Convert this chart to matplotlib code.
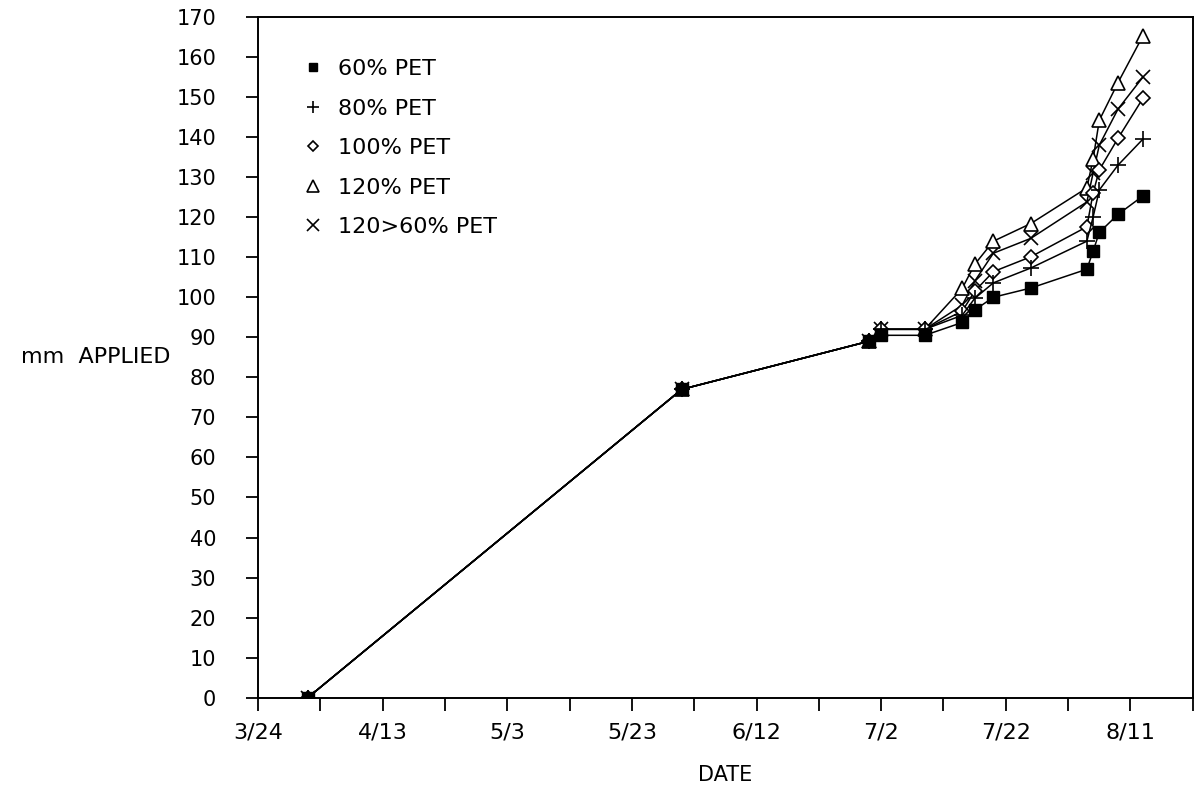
import matplotlib
matplotlib.use("Agg")
import matplotlib.pyplot as plt
from matplotlib.lines import Line2D
import pandas as pd

# irrigation dates (season year assumed) and cumulative water applied, mm
dates = ["4/1", "5/31", "6/30", "7/2", "7/9", "7/15", "7/17", "7/20",
         "7/26", "8/4", "8/5", "8/6", "8/9", "8/13"]
pet60 = [0, 77, 89, 90.5, 90.5, 93.7, 96.8, 100.0, 102.3, 107.0, 111.5, 116.2, 120.7, 125.3]
pet80 = [0, 77, 89, 92, 92, 95.5, 99.7, 103.6, 107.3, 114.0, 120.0, 126.8, 133.0, 139.5]
pet100 = [0, 77, 89, 92, 92, 96.5, 101.5, 106.4, 110.1, 117.6, 126.0, 131.8, 139.7, 149.7]
pet120 = [0, 77, 89, 92, 92, 102.2, 108.2, 114.0, 118.4, 127.3, 134.5, 144.2, 153.6, 165.3]
pet120_60 = [0, 77, 89, 92, 92, 98.0, 104.0, 111.0, 114.7, 123.8, 131.0, 138.0, 147.0, 155.0]

labels = ["60% PET", "80% PET", "100% PET", "120% PET", "120>60% PET"]
tick_labels = ["3/24", "4/13", "5/3", "5/23", "6/12", "7/2", "7/22", "8/11"]
year = 1991


def to_dates(md):
    return pd.to_datetime([f"{year}/{d}" for d in md], format="%Y/%m/%d")


x = to_dates(dates)
series = [pet60, pet80, pet100, pet120, pet120_60]
styles = [
    dict(marker="s", markersize=8, markerfacecolor="black", markeredgecolor="black"),
    dict(marker="+", markersize=11, markeredgewidth=1.2, markeredgecolor="black"),
    dict(marker="D", markersize=7, markerfacecolor="white", markeredgecolor="black", markeredgewidth=1.2),
    dict(marker="^", markersize=10.5, markerfacecolor="white", markeredgecolor="black", markeredgewidth=1.2),
    dict(marker="x", markersize=10, markeredgewidth=1.2, markeredgecolor="black"),
]

plt.rcParams["font.family"] = ["DejaVu Sans"]

fig = plt.figure(figsize=(11.94, 7.93), dpi=100)
ax = fig.add_axes([0.216, 0.1202, 0.783, 0.8584])

# draw the 60% series last so its squares sit on top
for i in [4, 3, 2, 1, 0]:
    ax.plot(x, series[i], color="black", linewidth=1.1, zorder=3 + (i == 0), **styles[i])

ticks = to_dates(tick_labels)
minor = ticks[:-1] + (ticks[1:] - ticks[:-1]) / 2
minor = minor.append(to_dates(["8/21"]))
ax.set_xticks(ticks)
ax.set_xticklabels(tick_labels)
ax.set_xticks(minor, minor=True)
ax.set_xlim(to_dates(["3/24"])[0], to_dates(["8/21"])[0])

ax.set_ylim(0, 170)
ax.set_yticks(range(0, 171, 10))

ax.tick_params(axis="both", which="both", direction="out", length=9, width=1.3,
               colors="black")
ax.tick_params(axis="y", pad=21, labelsize=15)
ax.tick_params(axis="x", pad=9, labelsize=16)
ax.tick_params(top=False, right=False)

for s in ax.spines.values():
    s.set_linewidth(1.4)

ax.set_xlabel("DATE", fontsize=15, labelpad=16)
ax.set_ylabel("mm  APPLIED", fontsize=16, rotation=0, ha="right", va="center")
ax.yaxis.set_label_coords(-0.094, 0.5)

handles = [Line2D([], [], linestyle="none", color="black", **st) for st in styles]
ax.legend(handles, labels, loc="upper left", bbox_to_anchor=(0.0256, 0.9676),
          frameon=False, fontsize=16, handlelength=1.0, handletextpad=0.63,
          labelspacing=0.88, markerscale=0.8)

fig.savefig("out.png", dpi=100)
